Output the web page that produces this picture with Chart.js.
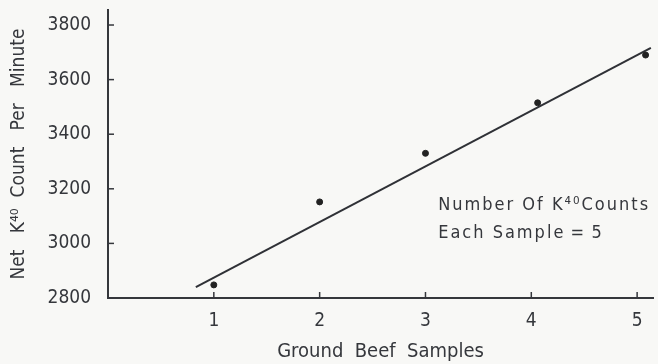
<!DOCTYPE html>
<html>
<head>
<meta charset="utf-8">
<script src="https://cdn.jsdelivr.net/npm/chart.js@4/dist/chart.umd.min.js"></script>
<style>
  html, body { margin: 0; padding: 0; background: #f8f8f6; }
  #wrap { width: 658px; height: 364px; }
</style>
</head>
<body>
<div id="wrap"><canvas id="myChart"></canvas></div>
<script>
// sample counts
const samples = [1, 2, 3, 4.06, 5.08];
const counts = [2848, 3152, 3330, 3515, 3690];

// fitted line end points
const fitX = [0.83, 5.13];
const fitY = [2840, 3716];

const xTicks = [1, 2, 3, 4, 5];
const yTicks = [2800, 3000, 3200, 3400, 3600, 3800];

const noteLines = ['Number Of K\u2074\u2070Counts', 'Each Sample\u2009=\u20095'];
const notePos = { x: 3.12, y: 3140 };

const ink = '#35373c';
const font = 'DejaVu Sans Condensed';

// inward tick marks + note text
const extras = {
  id: 'extras',
  afterDatasetsDraw(chart) {
    const ctx = chart.ctx;
    const xs = chart.scales.x;
    const ys = chart.scales.y;
    ctx.save();
    ctx.strokeStyle = ink;
    ctx.lineWidth = 1.5;
    xTicks.forEach((v) => {
      const px = xs.getPixelForValue(v);
      ctx.beginPath();
      ctx.moveTo(px, ys.bottom);
      ctx.lineTo(px, ys.bottom - 6);
      ctx.stroke();
    });
    yTicks.forEach((v) => {
      const py = ys.getPixelForValue(v);
      ctx.beginPath();
      ctx.moveTo(xs.left, py);
      ctx.lineTo(xs.left + 6, py);
      ctx.stroke();
    });
    ctx.fillStyle = ink;
    ctx.font = '18px "' + font + '"';
    ctx.letterSpacing = '2px';
    ctx.textBaseline = 'middle';
    const nx = xs.getPixelForValue(notePos.x);
    const ny = ys.getPixelForValue(notePos.y);
    noteLines.forEach((t, i) => ctx.fillText(t, nx, ny + i * 28));
    ctx.restore();
  },
};

const ctx = document.getElementById('myChart').getContext('2d');
new Chart(ctx, {
  type: 'scatter',
  data: {
    datasets: [
      {
        label: 'Samples',
        data: samples.map((x, i) => ({ x: x, y: counts[i] })),
        backgroundColor: '#222',
        borderColor: '#222',
        pointRadius: 3,
      },
      {
        label: 'Fit',
        data: fitX.map((x, i) => ({ x: x, y: fitY[i] })),
        showLine: true,
        borderColor: '#2f3136',
        borderWidth: 2,
        pointRadius: 0,
      },
    ],
  },
  options: {
    responsive: true,
    maintainAspectRatio: false,
    animation: false,
    layout: { padding: { left: 0, right: 3, top: 10, bottom: 0 } },
    scales: {
      x: {
        type: 'linear',
        min: 0,
        max: 5.15,
        afterBuildTicks: (s) => { s.ticks = xTicks.map((v) => ({ value: v })); },
        afterFit: (s) => { s.height = 66; s.paddingLeft = 0; s.paddingRight = 0; },
        grid: { display: false, drawTicks: false },
        border: { display: true, color: ink, width: 2 },
        ticks: { color: ink, padding: 12, font: { family: font, size: 19 } },
        title: {
          display: true,
          text: 'Ground  Beef  Samples',
          color: ink,
          padding: { top: 9, bottom: 0 },
          font: { family: font, size: 20 },
        },
      },
      y: {
        min: 2800,
        max: 3855,
        afterBuildTicks: (s) => { s.ticks = yTicks.map((v) => ({ value: v })); },
        afterFit: (s) => { s.width = 108; s.paddingTop = 0; s.paddingBottom = 0; },
        grid: { display: false, drawTicks: false },
        border: { display: true, color: ink, width: 2 },
        ticks: {
          color: ink,
          padding: 17,
          font: { family: font, size: 19 },
          callback: (v) => String(v),
        },
        title: {
          display: true,
          text: 'Net   K\u2074\u2070  Count   Per   Minute',
          color: ink,
          padding: { top: 8, bottom: 0 },
          font: { family: font, size: 19 },
        },
      },
    },
    plugins: {
      legend: { display: false },
      tooltip: { enabled: false },
    },
  },
  plugins: [extras],
});
</script>
</body>
</html>
